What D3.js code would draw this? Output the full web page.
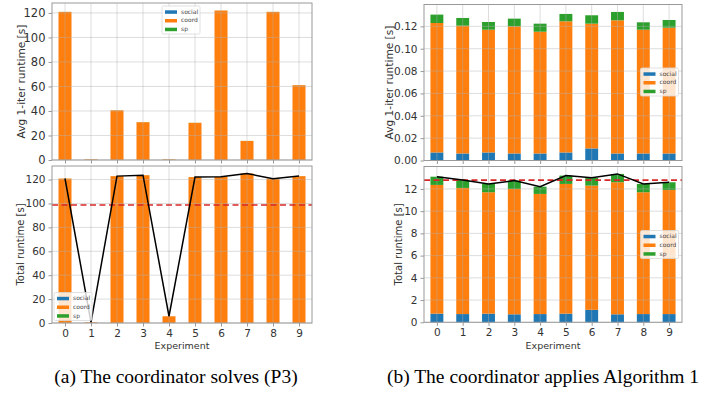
<!DOCTYPE html>
<html>
<head>
<meta charset="utf-8">
<script src="https://cdn.jsdelivr.net/npm/d3@7"></script>
<style>
  html, body { margin: 0; padding: 0; background: #fff; }
  svg { display: block; }
  text { font-family: "DejaVu Sans", sans-serif; }
</style>
</head>
<body>
<script>
// ---- data ----
const experiments = [0, 1, 2, 3, 4, 5, 6, 7, 8, 9];
const seriesKeys = ["social", "coord", "sp"];
const seriesColors = ["#1f77b4", "#ff7f0e", "#2ca02c"];

// (a) coordinator solves (P3)
const p3IterSocial = [0.05, 0.01, 0.05, 0.05, 0.01, 0.05, 0.05, 0.05, 0.05, 0.05];
const p3IterCoord  = [120.8, 0.5, 40.5, 30.8, 0.5, 30.3, 121.9, 15.5, 120.8, 61.0];
const p3IterSp     = [0.05, 0.01, 0.05, 0.05, 0.01, 0.05, 0.05, 0.05, 0.05, 0.05];
const p3TotalSocial = [0.05, 0.01, 0.05, 0.05, 0.02, 0.05, 0.05, 0.05, 0.05, 0.05];
const p3TotalCoord  = [120.8, 0.5, 122.8, 123.6, 5.6, 122.0, 122.2, 125.0, 120.6, 122.8];
const p3TotalSp     = [0.05, 0.01, 0.05, 0.05, 0.02, 0.05, 0.05, 0.05, 0.05, 0.05];

// (b) coordinator applies Algorithm 1
const algIterSocial = [0.0072, 0.0063, 0.0072, 0.0063, 0.0063, 0.0072, 0.0108, 0.0063, 0.0063, 0.0063];
const algIterCoord  = [0.1158, 0.1143, 0.1098, 0.1137, 0.1089, 0.1173, 0.1116, 0.1191, 0.1107, 0.1125];
const algIterSp     = [0.0075, 0.0069, 0.0069, 0.0069, 0.0072, 0.0066, 0.0075, 0.0075, 0.0066, 0.0069];
const algTotalSocial = [0.78, 0.74, 0.78, 0.72, 0.74, 0.78, 1.12, 0.72, 0.74, 0.74];
const algTotalCoord  = [11.58, 11.35, 10.92, 11.28, 10.81, 11.67, 11.18, 11.88, 10.96, 11.16];
const algTotalSp     = [0.74, 0.71, 0.75, 0.75, 0.65, 0.75, 0.70, 0.75, 0.75, 0.70];

const p3IterTicks = [0, 20, 40, 60, 80, 100, 120];
const p3TotalTicks = [0, 20, 40, 60, 80, 100, 120];
const algIterTicks = [0, 0.02, 0.04, 0.06, 0.08, 0.10, 0.12];
const algTotalTicks = [0, 2, 4, 6, 8, 10, 12];

const svg = d3.select("body").append("svg")
  .attr("width", 703).attr("height", 393);

function drawPanel(cfg) {
  const g = svg.append("g");
  const rows = experiments.map((e, i) => ({
    exp: e, social: cfg.social[i], coord: cfg.coord[i], sp: cfg.sp[i]
  }));
  const totals = rows.map(r => r.social + r.coord + r.sp);
  const yMax = d3.max(totals) * 1.05;

  const x = d3.scaleLinear().domain([-0.5, experiments.length - 0.5]).range([cfg.x0, cfg.x1]);
  const y = d3.scaleLinear().domain([0, yMax]).range([cfg.y1, cfg.y0]);
  const bw = x(0.25) - x(-0.25);

  // stacked bars
  const stacked = d3.stack().keys(seriesKeys)(rows);
  stacked.forEach((layer, k) => {
    g.append("g").selectAll("rect").data(layer).join("rect")
      .attr("x", (d, i) => x(i) - bw / 2)
      .attr("width", bw)
      .attr("y", d => y(d[1]))
      .attr("height", d => Math.max(0, y(d[0]) - y(d[1])))
      .attr("fill", seriesColors[k]);
  });

  // grid (drawn over the bars, under the lines)
  const grid = g.append("g").attr("stroke", "#b0b0b0").attr("stroke-opacity", 0.55).attr("stroke-width", 0.8);
  grid.selectAll(".gx").data(experiments).join("line")
    .attr("x1", (d, i) => x(i)).attr("x2", (d, i) => x(i))
    .attr("y1", cfg.y0).attr("y2", cfg.y1);
  grid.selectAll(".gy").data(cfg.ticks).join("line")
    .attr("x1", cfg.x0).attr("x2", cfg.x1)
    .attr("y1", d => y(d)).attr("y2", d => y(d));

  // total line and mean
  if (cfg.showTotal) {
    g.append("line")
      .attr("x1", cfg.x0).attr("x2", cfg.x1)
      .attr("y1", y(d3.mean(totals))).attr("y2", y(d3.mean(totals)))
      .attr("stroke", "#d62728").attr("stroke-width", 1.6)
      .attr("stroke-dasharray", "6,3.5");
    g.append("path")
      .datum(totals)
      .attr("d", d3.line().x((d, i) => x(i)).y(d => y(d)))
      .attr("fill", "none").attr("stroke", "#000").attr("stroke-width", 1.5);
  }

  // frame
  g.append("rect")
    .attr("x", cfg.x0).attr("y", cfg.y0)
    .attr("width", cfg.x1 - cfg.x0).attr("height", cfg.y1 - cfg.y0)
    .attr("fill", "none").attr("stroke", "#999").attr("stroke-width", 1);

  // axes
  const yAxis = g.append("g").attr("transform", `translate(${cfg.x0},0)`)
    .call(d3.axisLeft(y).tickValues(cfg.ticks).tickFormat(cfg.fmt).tickSize(3.5).tickPadding(3));
  const xAxis = g.append("g").attr("transform", `translate(0,${cfg.y1})`)
    .call(d3.axisBottom(x).tickValues(experiments.map((e, i) => i))
      .tickFormat(i => cfg.showX ? experiments[i] : "").tickSize(3.5).tickPadding(3));
  [yAxis, xAxis].forEach(a => {
    a.select(".domain").remove();
    a.selectAll(".tick line").attr("stroke", "#999");
    a.selectAll(".tick text").attr("fill", "#333")
      .style("font-size", cfg.tickFont + "px")
      .style("font-family", "DejaVu Sans");
  });

  // y title
  g.append("text")
    .attr("transform", `translate(${cfg.titleX},${(cfg.y0 + cfg.y1) / 2}) rotate(-90)`)
    .attr("text-anchor", "middle").attr("dominant-baseline", "middle")
    .attr("fill", "#333").style("font-size", cfg.titleFont + "px")
    .text(cfg.title);

  if (cfg.showX) {
    g.append("text")
      .attr("x", (cfg.x0 + cfg.x1) / 2).attr("y", cfg.xTitleY)
      .attr("text-anchor", "middle").attr("fill", "#333")
      .style("font-size", "9.5px").text("Experiment");
  }

  // legend
  const lg = g.append("g").attr("transform", `translate(${cfg.legX},${cfg.legY})`);
  lg.append("rect").attr("width", 38).attr("height", 28).attr("rx", 1.5)
    .attr("fill", "#fff").attr("fill-opacity", 0.8)
    .attr("stroke", "#d8d8d8").attr("stroke-width", 0.8);
  seriesKeys.forEach((k, i) => {
    lg.append("rect").attr("x", 3).attr("y", 4.3 + i * 8.7).attr("width", 12).attr("height", 3.5)
      .attr("fill", seriesColors[i]);
    lg.append("text").attr("x", 19).attr("y", 6 + i * 8.7)
      .attr("dominant-baseline", "middle").attr("fill", "#444")
      .style("font-size", "6px").text(k);
  });
}

const intFmt = d3.format("d");
const decFmt = d3.format(".2f");

drawPanel({ social: p3IterSocial, coord: p3IterCoord, sp: p3IterSp,
  x0: 52, x1: 312, y0: 3, y1: 160, ticks: p3IterTicks, fmt: intFmt,
  title: "Avg 1-iter runtime [s]", titleX: 22, tickFont: 11.5, titleFont: 10.6,
  showX: false, showTotal: false, legX: 162, legY: 6 });
drawPanel({ social: p3TotalSocial, coord: p3TotalCoord, sp: p3TotalSp,
  x0: 52, x1: 312, y0: 166, y1: 323, ticks: p3TotalTicks, fmt: intFmt,
  title: "Total runtime [s]", titleX: 21, tickFont: 10.5, titleFont: 10,
  showX: true, xTitleY: 349, showTotal: true, legX: 54, legY: 292.5 });
drawPanel({ social: algIterSocial, coord: algIterCoord, sp: algIterSp,
  x0: 424, x1: 682, y0: 4.5, y1: 160.5, ticks: algIterTicks, fmt: decFmt,
  title: "Avg 1-iter runtime [s]", titleX: 390, tickFont: 10.5, titleFont: 10.6,
  showX: false, showTotal: false, legX: 640.5, legY: 68 });
drawPanel({ social: algTotalSocial, coord: algTotalCoord, sp: algTotalSp,
  x0: 424, x1: 682, y0: 166.5, y1: 322.3, ticks: algTotalTicks, fmt: intFmt,
  title: "Total runtime [s]", titleX: 399, tickFont: 10.5, titleFont: 10,
  showX: true, xTitleY: 348.5, showTotal: true, legX: 640.5, legY: 230.5 });

// sub-figure captions
const captions = [
  { text: "(a) The coordinator solves (P3)", x: 176 },
  { text: "(b) The coordinator applies Algorithm 1", x: 543 }
];
svg.selectAll(".caption").data(captions).join("text")
  .attr("class", "caption")
  .attr("x", d => d.x).attr("y", 383)
  .attr("text-anchor", "middle").attr("fill", "#000")
  .style("font-family", "'Liberation Serif', 'Times New Roman', serif")
  .style("font-size", "19.5px")
  .text(d => d.text);
</script>
</body>
</html>
